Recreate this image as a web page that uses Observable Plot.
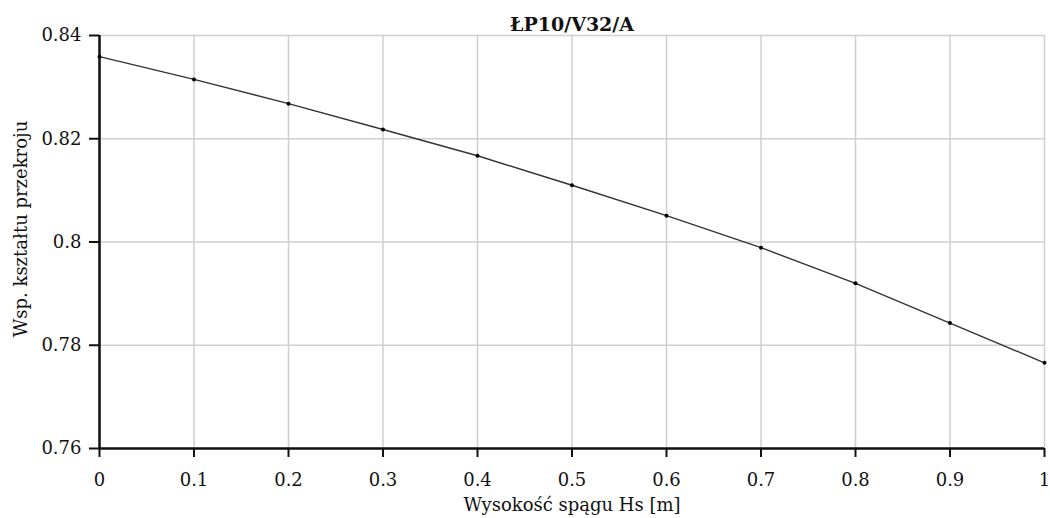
<!DOCTYPE html>
<html><head><meta charset="utf-8">
<script src="https://cdn.jsdelivr.net/npm/d3@7"></script>
<script src="https://cdn.jsdelivr.net/npm/@observablehq/plot@0.6"></script>
<style>body{margin:0;background:#fff} #chart svg{font-family:"DejaVu Serif",serif}</style>
</head><body><div id="chart"></div>
<script>
const hs = [0, 0.1, 0.2, 0.3, 0.4, 0.5, 0.6, 0.7, 0.8, 0.9, 1.0];
const coef = [0.8359, 0.8315, 0.8268, 0.8218, 0.8167, 0.8110, 0.8051, 0.7989, 0.7920, 0.7843, 0.7766];
const xTicks = [0, 0.1, 0.2, 0.3, 0.4, 0.5, 0.6, 0.7, 0.8, 0.9, 1];
const yTicks = [0.76, 0.78, 0.8, 0.82, 0.84];
const title = "ŁP10/V32/A";
const xLabel = "Wysokość spągu Hs [m]";
const yLabel = "Wsp. kształtu przekroju";

const data = hs.map((h, i) => ({h, c: coef[i]}));
const fmt = d => String(d);
const chart = Plot.plot({
  width: 1050, height: 518,
  marginLeft: 99, marginRight: 6, marginTop: 35, marginBottom: 70,
  style: {fontFamily: "DejaVu Serif", fontSize: "18px", color: "#111", background: "#fff", overflow: "visible"},
  x: {domain: [0, 1]},
  y: {domain: [0.76, 0.84]},
  marks: [
    Plot.gridX(xTicks, {stroke: "#cfcfcf", strokeOpacity: 1, strokeWidth: 1.5}),
    Plot.gridY(yTicks, {stroke: "#cfcfcf", strokeOpacity: 1, strokeWidth: 1.5}),
    Plot.axisX(xTicks, {tickSize: 9, tickPadding: 16, tickFormat: fmt, label: null, fontSize: 18, strokeWidth: 2, stroke: "#111"}),
    Plot.axisY(yTicks, {tickSize: 10, tickPadding: 8, tickFormat: fmt, label: null, fontSize: 18, strokeWidth: 2, stroke: "#111"}),
    Plot.ruleX([0], {stroke: "#111", strokeWidth: 2.5}),
    Plot.ruleY([0.76], {stroke: "#111", strokeWidth: 2.5}),
    Plot.line(data, {x: "h", y: "c", stroke: "#333", strokeWidth: 1.4}),
    Plot.dot(data, {x: "h", y: "c", r: 2, fill: "#000", stroke: null}),
    Plot.text([title], {text: d => d, frameAnchor: "top", textAnchor: "middle", dy: -18, fontWeight: "bold", fontSize: 19, fill: "#111"}),
    Plot.text([xLabel], {text: d => d, frameAnchor: "bottom", textAnchor: "middle", dy: 62, fontSize: 18, fill: "#111"}),
    Plot.text([yLabel], {text: d => d, frameAnchor: "left", textAnchor: "middle", dx: -78, dy: -13, rotate: -90, fontSize: 18, fill: "#111"})
  ]
});
document.getElementById("chart").append(chart);
</script>
</body></html>
